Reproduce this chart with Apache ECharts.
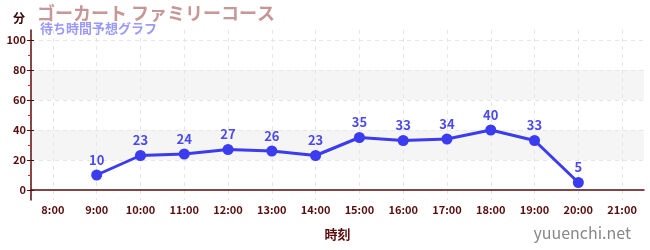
<!DOCTYPE html>
<html><head><meta charset="utf-8">
<script src="https://cdn.jsdelivr.net/npm/echarts@6/dist/echarts.min.js"></script>
<style>html,body{margin:0;padding:0;background:#fff}#c{width:650px;height:250px}</style>
</head><body><div id="c"></div>
<script>
const categories = ['8:00','9:00','10:00','11:00','12:00','13:00','14:00','15:00','16:00','17:00','18:00','19:00','20:00','21:00'];
const waitTimes = [null,10,23,24,27,26,23,35,33,34,40,33,5,null];
const titleText = 'ゴーカート ファミリーコース';
const subText = '待ち時間予想グラフ';
const yUnit = '分';
const xName = '時刻';
const brand = 'yuuenchi.net';

const FONT = '"Noto Sans CJK JP", "Noto Sans", sans-serif';
const AX = '#5a0d0d';
const W = 650, L = 31, R = 6;
const half = (W - L - R) / categories.length / 2;
const chart = echarts.init(document.getElementById('c'), null, {renderer:'canvas'});
chart.setOption({
  animation:false,
  textStyle:{fontFamily:FONT},
  title:[
    {text:yUnit,left:8,top:7,textStyle:{fontSize:12,fontWeight:'bold',color:'#3a0808',fontFamily:FONT}},
    {text:titleText,left:32,top:-1,textStyle:{fontSize:18,fontWeight:'bold',color:'#c79696',fontFamily:FONT}},
    {text:subText,left:35,top:17,textStyle:{fontSize:13,fontWeight:'bold',color:'#9999ff',fontFamily:FONT}},
    {text:brand,right:14,bottom:4,textStyle:{fontSize:16,fontWeight:'normal',color:'#888',fontFamily:FONT}}
  ],
  grid:[
    {left:L,right:R,top:30,bottom:50},
    {left:L,right:R,top:40,bottom:60},
    {left:L+half,right:R+half,top:30,bottom:50}
  ],
  xAxis:[
    {type:'category',gridIndex:2,data:categories,boundaryGap:false,
     axisLine:{show:false},axisTick:{show:false},axisLabel:{show:false},
     splitLine:{show:true,lineStyle:{color:'#e6e6e6',type:[4,4]}}},
    {type:'category',gridIndex:0,data:categories,boundaryGap:true,
     name:xName,nameLocation:'middle',nameGap:28,
     nameTextStyle:{fontSize:13,fontWeight:'bold',color:AX,fontFamily:FONT},
     axisLine:{lineStyle:{color:AX,width:1.5}},
     axisTick:{alignWithLabel:true,length:3,lineStyle:{color:AX}},
     axisLabel:{fontSize:11,fontWeight:'bold',color:AX,margin:4,fontFamily:FONT},
     splitLine:{show:false}},
    {type:'category',gridIndex:0,data:categories,boundaryGap:true,position:'bottom',
     axisLine:{show:false},axisLabel:{show:false},
     axisTick:{alignWithLabel:true,inside:true,length:3,lineStyle:{color:AX}},splitLine:{show:false}},
    {type:'category',gridIndex:1,data:categories,boundaryGap:true,show:false}
  ],
  yAxis:[
    {type:'value',gridIndex:0,min:-20/3,max:320/3,
     axisLine:{show:true,lineStyle:{color:AX,width:1.5}},axisTick:{show:false},axisLabel:{show:false},splitLine:{show:false}},
    {type:'value',gridIndex:1,min:0,max:100,interval:20,
     axisLine:{show:false},
     axisTick:{show:true,length:4,lineStyle:{color:AX}},
     minorTick:{show:true,splitNumber:2,length:3,lineStyle:{color:'#dd2222'}},
     axisLabel:{fontSize:11,fontWeight:'bold',color:AX,margin:5,fontFamily:FONT},
     splitLine:{show:true,lineStyle:{color:'#e6e6e6',type:[4,4]}},
     splitArea:{show:true,areaStyle:{color:['rgba(0,0,0,0)','#f5f5f5']}}},
    {type:'value',gridIndex:1,min:0,max:100,interval:20,position:'left',
     axisLine:{show:false},axisLabel:{show:false},splitLine:{show:false},
     axisTick:{show:true,inside:true,length:3,lineStyle:{color:AX}}},
    {type:'value',gridIndex:2,show:false,min:0,max:100}
  ],
  series:[{
    type:'line',xAxisIndex:3,yAxisIndex:1,data:waitTimes,
    symbol:'circle',symbolSize:11,
    lineStyle:{color:'#3b3bf0',width:3},
    itemStyle:{color:'#3b3bf0'},
    label:{show:true,position:'top',distance:3,fontSize:13,fontWeight:'bold',color:'#4a4aee',fontFamily:FONT}
  }]
});
</script></body></html>
